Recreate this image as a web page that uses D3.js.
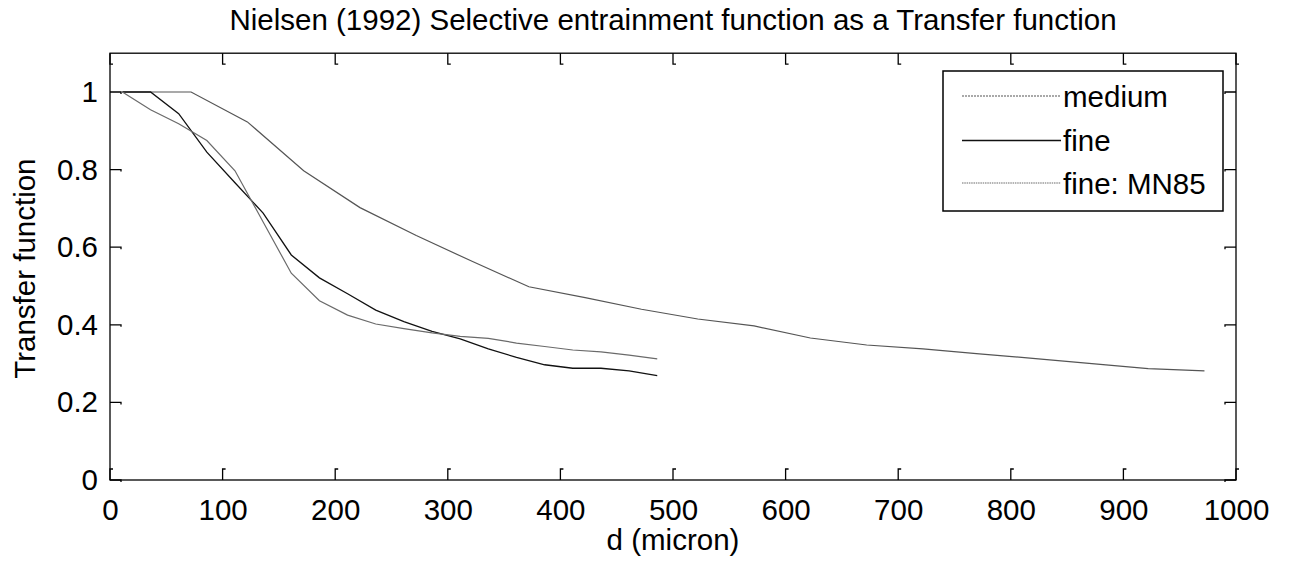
<!DOCTYPE html>
<html>
<head>
<meta charset="utf-8">
<script src="https://cdn.jsdelivr.net/npm/d3@7"></script>
<style>
  html, body { margin: 0; padding: 0; background: #fff; }
  text { font-family: Arial, "Liberation Sans", sans-serif; fill: #000; }
</style>
</head>
<body>
<svg id="chart" width="1289" height="565"></svg>
<script>
// ---- data ----
const mediumD = [11, 22, 72, 122, 172, 222, 272, 322, 372, 422, 472, 522, 572, 622, 672, 722, 772, 822, 872, 922, 972];
const mediumT = [1, 1, 1, 0.923, 0.797, 0.702, 0.630, 0.563, 0.498, 0.470, 0.440, 0.415, 0.397, 0.366, 0.348, 0.338, 0.325, 0.313, 0.300, 0.287, 0.281];
const fineD = [11, 36, 61, 86, 111, 136, 161, 186, 211, 236, 261, 286, 311, 336, 361, 386, 411, 436, 461, 486];
const fineT = [1, 1, 0.944, 0.845, 0.766, 0.688, 0.580, 0.521, 0.480, 0.438, 0.408, 0.383, 0.364, 0.338, 0.316, 0.297, 0.288, 0.288, 0.281, 0.269];
const mn85T = [1, 0.954, 0.918, 0.875, 0.797, 0.665, 0.533, 0.462, 0.425, 0.402, 0.390, 0.379, 0.370, 0.365, 0.353, 0.344, 0.335, 0.330, 0.322, 0.312];
const xTicks = [0, 100, 200, 300, 400, 500, 600, 700, 800, 900, 1000];
const yTicks = [0, 0.2, 0.4, 0.6, 0.8, 1];
const seriesNames = ["medium", "fine", "fine: MN85"];
const titleText = "Nielsen (1992) Selective entrainment function as a Transfer function";
const xLabel = "d (micron)";
const yLabel = "Transfer function";

// ---- layout ----
const L = 110, R = 1236, T = 53.2, B = 480;
const FS = 29.5;
const svg = d3.select("#chart");
const x = d3.scaleLinear().domain([0, 1000]).range([L, R]);
const y = d3.scaleLinear().domain([0, 1.1]).range([B, T]);

const series = [
  { name: seriesNames[0], pts: mediumD.map((d, i) => [d, mediumT[i]]), color: "#555", width: 1.2, dash: "2,1" },
  { name: seriesNames[1], pts: fineD.map((d, i) => [d, fineT[i]]), color: "#111", width: 1.3, dash: null },
  { name: seriesNames[2], pts: fineD.map((d, i) => [d, mn85T[i]]), color: "#6a6a6a", width: 1.2, dash: "1.5,0.8" }
];

const line = d3.line().x(d => x(d[0])).y(d => y(d[1]));

// lines
series.forEach(s => {
  svg.append("path")
    .attr("d", line(s.pts))
    .attr("fill", "none")
    .attr("stroke", s.color)
    .attr("stroke-width", s.width);
});

// axes via d3 axis for labels
const xAxis = d3.axisBottom(x).tickValues(xTicks).tickSize(0).tickPadding(19).tickFormat(d3.format("d"));
const gx = svg.append("g").attr("transform", `translate(0,${B})`).call(xAxis);
gx.select(".domain").remove();
gx.selectAll("text").attr("font-size", FS).attr("font-family", "Arial, 'Liberation Sans', sans-serif").attr("fill", "#000");

const yAxis = d3.axisLeft(y).tickValues(yTicks).tickSize(0).tickPadding(12).tickFormat(d => d === 0 ? "0" : d === 1 ? "1" : d3.format(".1f")(d));
const gy = svg.append("g").attr("transform", `translate(${L},0)`).call(yAxis);
gy.select(".domain").remove();
gy.selectAll("text").attr("font-size", FS).attr("font-family", "Arial, 'Liberation Sans', sans-serif").attr("fill", "#000");

// box
svg.append("rect").attr("x", L).attr("y", T).attr("width", R - L).attr("height", B - T)
  .attr("fill", "none").attr("stroke", "#000").attr("stroke-width", 1.3);

// tick marks (MATLAB-style inward with little hooks)
const tk = 11, hk = 3;
const tickG = svg.append("g").attr("fill", "none").attr("stroke", "#000").attr("stroke-width", 1.3);
xTicks.forEach(v => {
  const px = x(v);
  tickG.append("path").attr("d", `M${px},${B}V${B - tk}h${hk}`);
  tickG.append("path").attr("d", `M${px},${T}V${T + tk}h${hk}`);
});
yTicks.forEach(v => {
  const py = y(v);
  tickG.append("path").attr("d", `M${L},${py}H${L + tk}v${2}`);
  tickG.append("path").attr("d", `M${R},${py}H${R - tk}v${2}`);
});

// title & labels
svg.append("text").attr("x", (L + R) / 2).attr("y", 30).attr("text-anchor", "middle")
  .attr("font-size", FS).text(titleText);
svg.append("text").attr("x", (L + R) / 2).attr("y", 550).attr("text-anchor", "middle")
  .attr("font-size", FS).text(xLabel);
svg.append("text").attr("transform", `translate(35,${(T + B) / 2 + 2}) rotate(-90)`).attr("text-anchor", "middle")
  .attr("font-size", FS).text(yLabel);

// legend
const lg = svg.append("g");
lg.append("rect").attr("x", 943).attr("y", 71).attr("width", 280).attr("height", 140)
  .attr("fill", "#fff").attr("stroke", "#000").attr("stroke-width", 1.5);
const legY = [96, 140.5, 183];
series.forEach((s, i) => {
  lg.append("line").attr("x1", 962).attr("x2", 1061).attr("y1", legY[i]).attr("y2", legY[i])
    .attr("stroke", s.color).attr("stroke-width", s.width)
    .attr("stroke-dasharray", s.dash);
  lg.append("text").attr("x", 1063).attr("y", legY[i] + 10.5).attr("font-size", FS).text(s.name);
});
</script>
</body>
</html>
